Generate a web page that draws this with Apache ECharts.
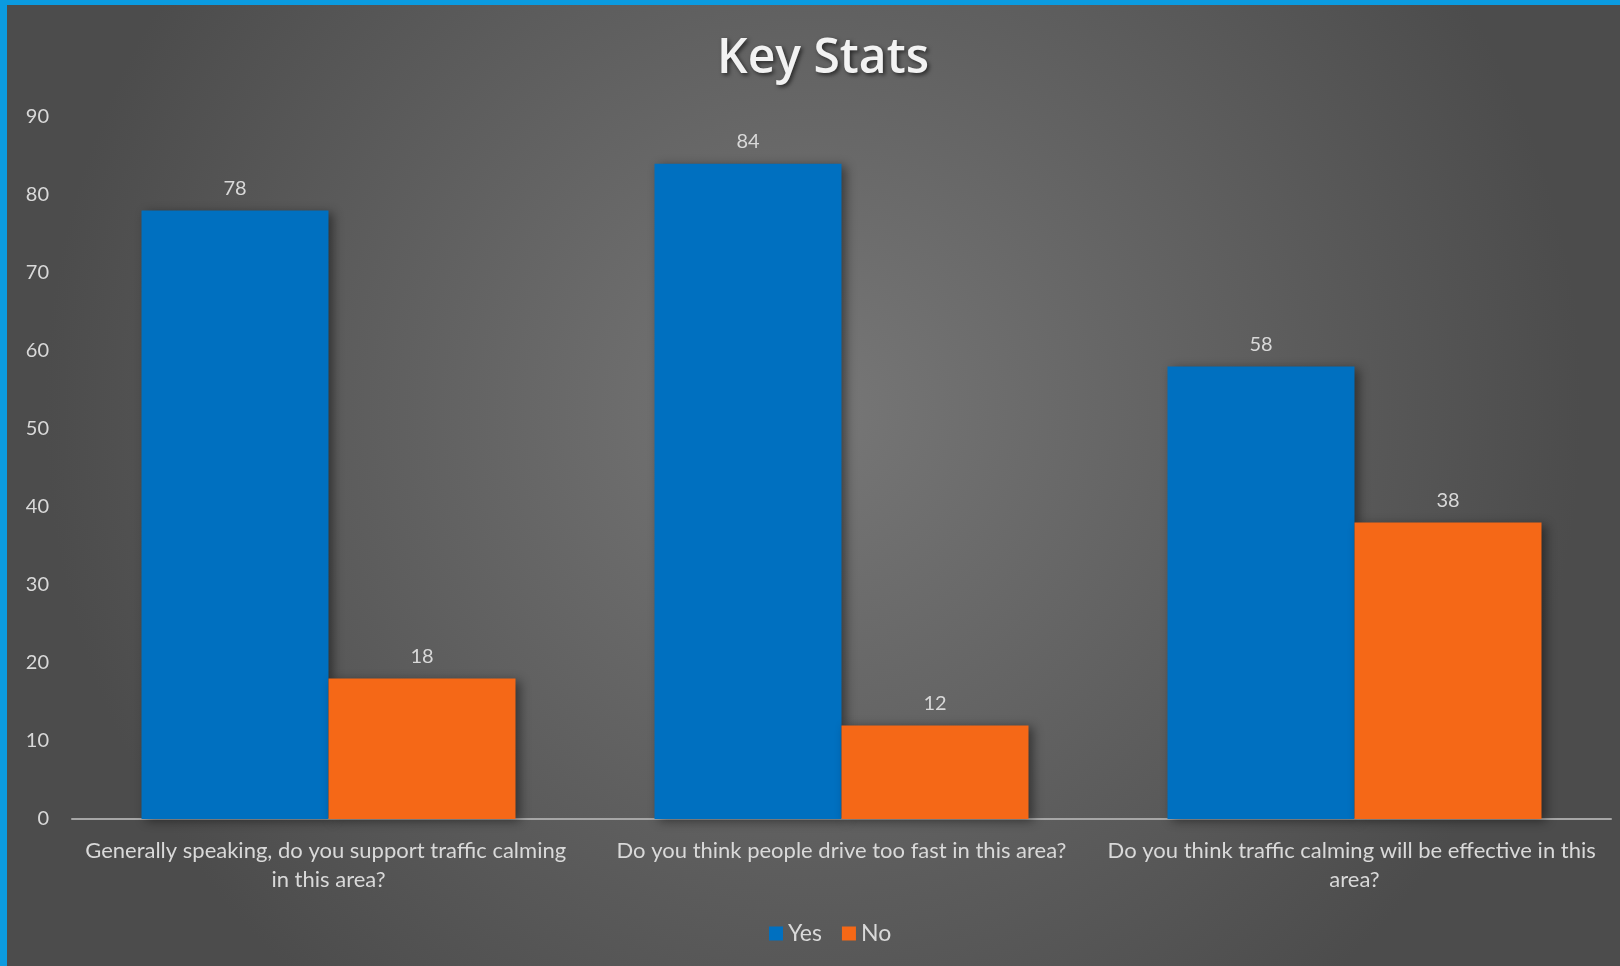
<!DOCTYPE html>
<html lang="en">
<head>
    <meta charset="UTF-8">
    <title>Key Stats</title>
    <style>
        html, body { margin: 0; padding: 0; background: #4f4f4f; }
        #frame { width: 1620px; height: 966px; box-sizing: border-box;
                 border-left: 7px solid #0b9be0; border-top: 5px solid #0b9be0; }
        #chart1 { width: 1613px; height: 961px; }
    </style>
</head>
<body>
<div id="frame"><div id="chart1"></div></div>
<script type="text/javascript" src="https://cdn.jsdelivr.net/npm/echarts@6/dist/echarts.min.js"></script>
<script type="text/javascript">
// data
var questions = [
    'Generally speaking, do you support traffic calming in this area?',
    'Do you think people drive too fast in this area?',
    'Do you think traffic calming will be effective in this area?'
];
var yesValues = [78, 84, 58];
var noValues = [18, 12, 38];
var yTicks = [0, 10, 20, 30, 40, 50, 60, 70, 80, 90];

var fontName = 'Lato';
var labelColor = '#d9d9d9';

var barShadow = {
    shadowColor: 'rgba(0,0,0,0.45)',
    shadowBlur: 10,
    shadowOffsetX: 4,
    shadowOffsetY: 2
};

var option = {
    backgroundColor: {
        type: 'radial', x: 0.5, y: 0.42, r: 0.8,
        colorStops: [
            { offset: 0, color: '#777777' },
            { offset: 1, color: '#4c4c4c' }
        ]
    },
    textStyle: { fontFamily: fontName },
    title: {
        text: 'Key Stats',
        left: 811,
        top: 25,
        textAlign: 'center',
        textStyle: {
            fontFamily: 'Open Sans',
            fontSize: 48,
            fontWeight: 600,
            color: '#f2f2f2',
            textShadowColor: 'rgba(0,0,0,0.6)',
            textShadowBlur: 4,
            textShadowOffsetX: 2,
            textShadowOffsetY: 2
        }
    },
    legend: {
        data: ['Yes', 'No'],
        left: 757,
        bottom: 16,
        itemWidth: 14,
        itemHeight: 14,
        itemGap: 20,
        icon: 'rect',
        textStyle: { color: labelColor, fontSize: 23, fontFamily: fontName }
    },
    grid: { left: 65, right: 9, top: 112, bottom: 147, containLabel: false },
    xAxis: {
        type: 'category',
        data: questions,
        axisLine: { lineStyle: { color: '#a6a6a6', width: 2 } },
        axisTick: { show: false },
        axisLabel: {
            color: labelColor,
            fontSize: 22,
            lineHeight: 29,
            margin: 17,
            width: 505,
            overflow: 'break',
            interval: 0,
            fontFamily: fontName
        }
    },
    yAxis: {
        type: 'value',
        min: 0,
        max: 90,
        interval: 10,
        splitLine: { show: false },
        axisLine: { show: false },
        axisTick: { show: false },
        axisLabel: {
            color: labelColor,
            fontSize: 20,
            margin: 23,
            fontFamily: fontName,
            formatter: function (v) { return yTicks.indexOf(v) >= 0 ? String(v) : ''; }
        }
    },
    series: [
        {
            name: 'Yes',
            type: 'bar',
            data: yesValues,
            barWidth: 187,
            barGap: '0%',
            itemStyle: Object.assign({ color: '#0070c0' }, barShadow),
            label: { show: true, position: 'top', distance: 12, color: labelColor, fontSize: 20, fontFamily: fontName }
        },
        {
            name: 'No',
            type: 'bar',
            data: noValues,
            barWidth: 187,
            barGap: '0%',
            itemStyle: Object.assign({ color: '#f56817' }, barShadow),
            label: { show: true, position: 'top', distance: 12, color: labelColor, fontSize: 20, fontFamily: fontName }
        }
    ]
};

var myChart = echarts.init(document.getElementById('chart1'));
myChart.setOption(option);
</script>
</body>
</html>
